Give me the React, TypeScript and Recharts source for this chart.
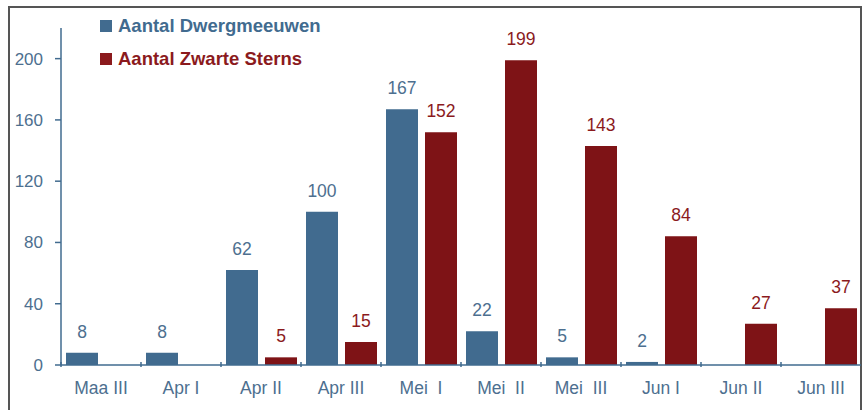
import React from "react";
import { BarChart, Bar, XAxis, YAxis, LabelList } from "recharts";

const periods = ["Maa III", "Apr I", "Apr II", "Apr III", "Mei  I", "Mei  II", "Mei  III", "Jun I", "Jun II", "Jun III"];
const dwergmeeuwen = [8, 8, 62, 100, 167, 22, 5, 2, null, null];
const zwarteSterns = [null, null, 5, 15, 152, 199, 143, 84, 27, 37];
const yTicks = [0, 40, 80, 120, 160, 200];

const BLUE = "#416b8f";
const RED = "#7e1316";
const TEXT = "#4d6f8f";
const FONT = "'Liberation Sans', Arial, sans-serif";

const data = periods.map((p, i) => ({
  period: p,
  dwerg: dwergmeeuwen[i],
  zwart: zwarteSterns[i],
}));

function PeriodTick(props: any) {
  const { x, y, payload } = props;
  const half = payload && payload.offset ? payload.offset : 40;
  return (
    <g>
      <line x1={x - half} x2={x - half} y1={y} y2={y - 5} stroke={BLUE} strokeWidth={1.5} />
      <text
        x={x}
        y={y + 27}
        textAnchor="middle"
        fill={TEXT}
        fontSize={17.5}
        fontFamily={FONT}
        style={{ whiteSpace: "pre" }}
      >
        {payload.value}
      </text>
    </g>
  );
}

function Legend() {
  const items = [
    { name: "Aantal Dwergmeeuwen", color: BLUE, y: 15 },
    { name: "Aantal Zwarte Sterns", color: "#8b1a1d", y: 48 },
  ];
  return (
    <div style={{ position: "absolute", left: 100, top: 0 }}>
      {items.map((it) => (
        <div
          key={it.name}
          style={{
            position: "absolute",
            top: it.y,
            left: 0,
            display: "flex",
            alignItems: "center",
            whiteSpace: "nowrap",
            fontFamily: FONT,
            fontWeight: "bold",
            fontSize: 18.5,
            color: it.color,
          }}
        >
          <span style={{ display: "inline-block", width: 12, height: 12, background: it.color, marginRight: 6 }} />
          {it.name}
        </div>
      ))}
    </div>
  );
}

export default function App() {
  return (
    <div style={{ position: "absolute", left: 0, top: 0, width: 865, height: 410, background: "#fff", overflow: "hidden" }}>
      <div
        style={{
          position: "absolute",
          left: 8,
          top: 6,
          width: 854,
          height: 420,
          border: "2px solid #555",
          boxSizing: "border-box",
        }}
      />
      <div style={{ position: "absolute", left: 0, top: 0 }}>
        <BarChart
          width={865}
          height={410}
          data={data}
          margin={{ top: 28, right: 4, left: 0, bottom: 0 }}
          barCategoryGap={5}
          barGap={7}
        >
          <YAxis
            width={61}
            domain={[0, 220]}
            ticks={yTicks}
            tickSize={6}
            tickMargin={12}
            axisLine={{ stroke: BLUE, strokeWidth: 1.5 }}
            tickLine={{ stroke: BLUE, strokeWidth: 1.5 }}
            tick={{ fill: TEXT, fontSize: 17, fontFamily: FONT }}
          />
          <XAxis
            dataKey="period"
            height={45}
            interval={0}
            axisLine={{ stroke: BLUE, strokeWidth: 1.5 }}
            tickLine={false}
            tickSize={0}
            tick={<PeriodTick />}
          />
          <Bar dataKey="dwerg" fill={BLUE} isAnimationActive={false}>
            <LabelList dataKey="dwerg" position="top" offset={15} fill={TEXT} fontSize={17.5} fontFamily={FONT} />
          </Bar>
          <Bar dataKey="zwart" fill={RED} isAnimationActive={false}>
            <LabelList dataKey="zwart" position="top" offset={15} fill="#8b1a1d" fontSize={17.5} fontFamily={FONT} />
          </Bar>
        </BarChart>
      </div>
      <Legend />
    </div>
  );
}
